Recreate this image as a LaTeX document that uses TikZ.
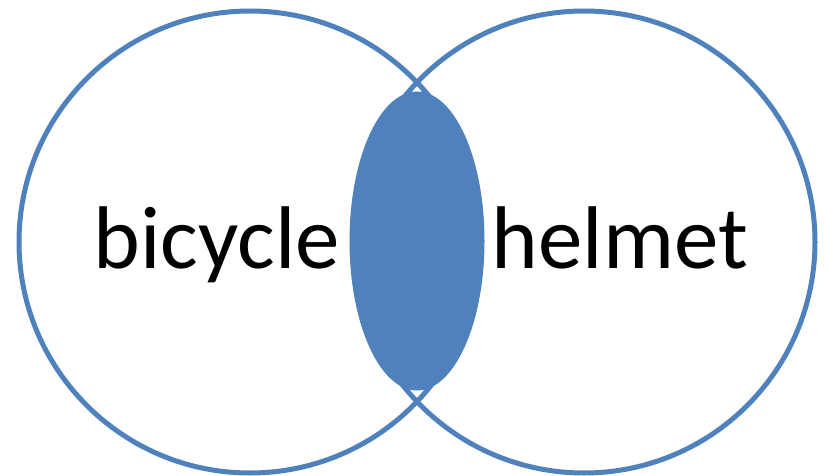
\documentclass[tikz,border=0pt]{standalone}
\usepackage{fontspec}
\setmainfont{Carlito}
\usetikzlibrary{positioning}
\definecolor{vblue}{HTML}{4F81BD}

\begin{document}
\begin{tikzpicture}[x=1pt,y=-1pt]
\useasboundingbox (0,0) rectangle (827,476);
\draw[vblue,line width=5pt] (250,242) circle (231);
\draw[vblue,line width=5pt] (584,242) circle (231);
\draw[vblue,fill=vblue,line width=1pt] (417,241) ellipse (67 and 149);
\node[anchor=base,font=\fontsize{89}{89}\selectfont,inner sep=0pt] (bike) at (217,268) {bicycle};
\node[anchor=base,font=\fontsize{89}{89}\selectfont,inner sep=0pt] (helm) at (620,268) {helmet};
\end{tikzpicture}
\end{document}
